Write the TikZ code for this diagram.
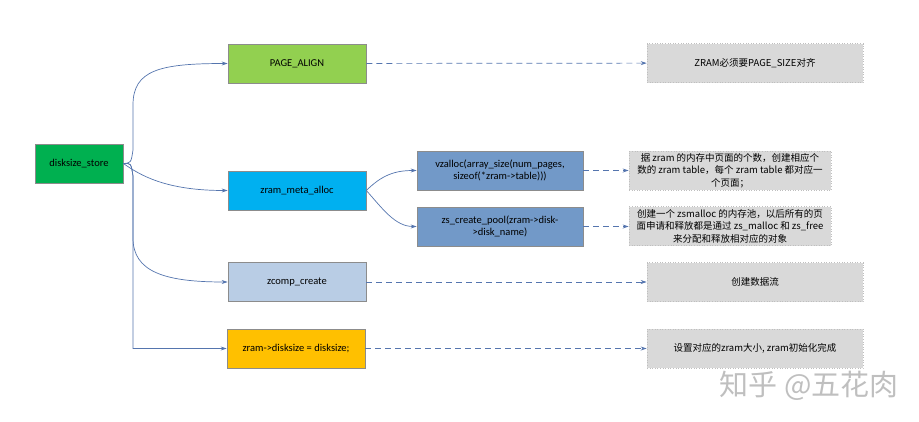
\documentclass[tikz,border=0pt]{standalone}
\usepackage{fontspec}
\setmainfont{Carlito}
\newfontfamily\cjk{Noto Sans CJK SC}
\usetikzlibrary{arrows.meta}

\definecolor{cDisk}{HTML}{00B050}
\definecolor{cPage}{HTML}{92D050}
\definecolor{cMeta}{HTML}{00B0F0}
\definecolor{cSub}{HTML}{7299C8}
\definecolor{cComp}{HTML}{B9CDE5}
\definecolor{cSize}{HTML}{FFC000}
\definecolor{cNote}{HTML}{D9D9D9}
\definecolor{cLink}{HTML}{5575AE}

\tikzset{
  box/.style={draw=black!45, line width=0.7pt, align=center, font=\fontsize{10.5}{12.5}\selectfont,
              minimum width=138pt, minimum height=39pt, inner sep=2pt},
  subbox/.style={box, minimum width=166pt},
  note/.style={draw=black!25, dotted, line width=0.6pt, fill=cNote, align=center,
               font=\cjk\fontsize{9.5}{12.5}\selectfont, minimum height=39pt, inner sep=1pt},
  link/.style={draw=cLink, line width=0.7pt, -{Stealth[length=6pt,width=4pt]}},
  dlink/.style={link, dash pattern=on 6pt off 4pt},
}

\begin{document}
\begin{tikzpicture}[x=1pt, y=-1pt]
\useasboundingbox (0,0) rectangle (919,421);

% main functions
\node[box, fill=cDisk, minimum width=88pt] (ds) at (79,163.5) {disksize\_store};
\node[box, fill=cPage] (pa) at (297,63.5) {PAGE\_ALIGN};
\node[box, fill=cMeta] (ms) at (297,190.5) {zram\_meta\_alloc};
\node[box, fill=cComp] (zc) at (297,282) {zcomp\_create};
\node[box, fill=cSize] (dz) at (296,348.5) {zram->disksize = disksize;};

% helpers of zram_meta_alloc
\node[subbox, fill=cSub] (vz) at (500,170.5) {vzalloc(array\_size(num\_pages,\\sizeof(*zram->table)))};
\node[subbox, fill=cSub] (zs) at (500,226.5) {zs\_create\_pool(zram->disk-\\>disk\_name)};

% notes
\node[note, minimum width=216pt] (n1) at (755,63) {ZRAM必须要PAGE\_SIZE对齐};
\node[note, minimum width=202pt] (n2) at (730,170.5) {据 zram 的内存中页面的个数，创建相应个\\数的 zram table，每个 zram table 都对应一\\个页面；};
\node[note, minimum width=202pt] (n3) at (730,226) {创建一个 zsmalloc 的内存池，以后所有的页\\面申请和释放都是通过 zs\_malloc 和 zs\_free\\来分配和释放相对应的对象};
\node[note, minimum width=216pt] (n4) at (755,282) {创建数据流};
\node[note, minimum width=216pt] (n5) at (755,348.5) {设置对应的zram大小, zram初始化完成};

% call tree
\draw[link] (ds.east) .. controls (131,163) .. (133,150) -- (133,105) .. controls (133,70) and (160,63.5) .. (pa.west);
\draw[link] (ds.east) .. controls (140,175) and (165,190.5) .. (ms.west);
\draw[link] (ds.east) .. controls (131,163) .. (133,176) -- (133,238) .. controls (133,272) and (165,282) .. (zc.west);
\draw[link] (ds.east) .. controls (131,163) .. (133,176) -- (133,348.5) -- (dz.west);
\draw[link] (ms.east) .. controls (382,175) and (395,170.5) .. (vz.west);
\draw[link] (ms.east) .. controls (382,208) and (395,226.5) .. (zs.west);

% results
\draw[dlink] (pa) -- (n1);
\draw[dlink] (vz) -- (n2.west |- vz);
\draw[dlink] (zs) -- (n3.west |- zs);
\draw[dlink] (zc) -- (n4);
\draw[dlink] (dz) -- (n5);

% signature
\node[font=\cjk\fontsize{29}{29}\selectfont, text=black!25] (wm) at (809,386) {知乎 @五花肉};
\end{tikzpicture}
\end{document}
